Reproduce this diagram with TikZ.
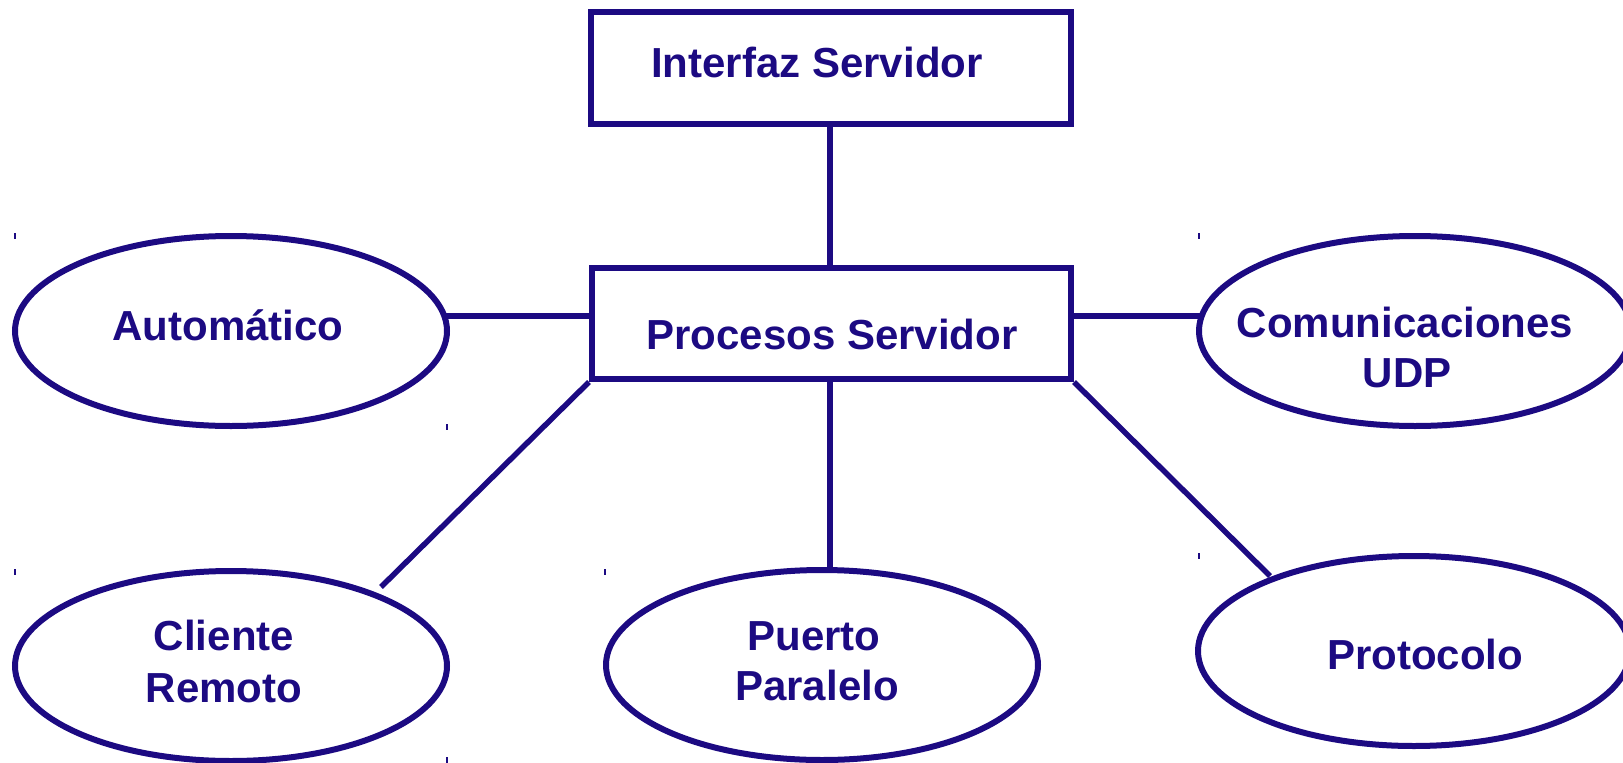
\documentclass[tikz,border=0pt]{standalone}
\usepackage{fontspec}
\setmainfont{Liberation Sans}
\usetikzlibrary{shapes.geometric}
\definecolor{ink}{RGB}{28,10,130}
\begin{document}
\begin{tikzpicture}[x=1pt,y=-1pt,
  box/.style={draw=ink, line width=6pt, rectangle, inner sep=0pt},
  oval/.style={draw=ink, line width=6pt, ellipse, inner sep=0pt,
               minimum width=432pt, minimum height=190pt},
  lbl/.style={text=ink, font=\fontsize{42}{50}\selectfont\bfseries,
              inner sep=0pt, anchor=base},
  link/.style={draw=ink, line width=5.5pt},
  corner/.style={draw=ink, line width=1.5pt}]
\useasboundingbox (0,0) rectangle (1623,763);

% boxes
\node[box, minimum width=480pt, minimum height=112pt] (iface) at (831,68) {};
\node[box, minimum width=479pt, minimum height=111pt] (proc) at (831.5,323.5) {};

% ellipses
\node[oval] (auto) at (231,331) {};
\node[oval] (comm) at (1415,331) {};
\node[oval] (cli)  at (231,666) {};
\node[oval] (port) at (822,665) {};
\node[oval] (prot) at (1414,651) {};

% labels
\node[lbl] (tIface) at (817,77)  {Interfaz Servidor};
\node[lbl] (tProc)  at (832,349) {Procesos Servidor};
\node[lbl] (tAuto)  at (228,340) {Automático};
\node[lbl] (tComm1) at (1405,337) {Comunicaciones};
\node[lbl] (tComm2) at (1407,387) {UDP};
\node[lbl] (tCli1)  at (224,650) {Cliente};
\node[lbl] (tCli2)  at (224,702) {Remoto};
\node[lbl] (tPort1) at (814,650) {Puerto};
\node[lbl] (tPort2) at (817,700) {Paralelo};
\node[lbl] (tProt)  at (1425,669) {Protocolo};

% connector end points
\coordinate (iB)  at (830,124);
\coordinate (pT)  at (830,268);
\coordinate (pL)  at (592,316);
\coordinate (aR)  at (446,316);
\coordinate (pR)  at (1071,316);
\coordinate (cL)  at (1200,316);
\coordinate (pB)  at (830,379);
\coordinate (poT) at (830,570);
\coordinate (cliE) at (381,587);
\coordinate (protE) at (1270,576);

% connectors
\draw[link] (iB) -- (pT);
\draw[link] (aR) -- (pL);
\draw[link] (pR) -- (cL);
\draw[link] (pB) -- (poT);
\draw[link] (proc.south west) -- (cliE);
\draw[link] (proc.south east) -- (protE);

% small corner marks
\foreach \cx/\cy in {15/236, 447/427, 15/572, 447/760, 605/572, 1199/236, 1199/556}
  \draw[corner] (\cx,\cy-3) -- (\cx,\cy+3);
\end{tikzpicture}
\end{document}
